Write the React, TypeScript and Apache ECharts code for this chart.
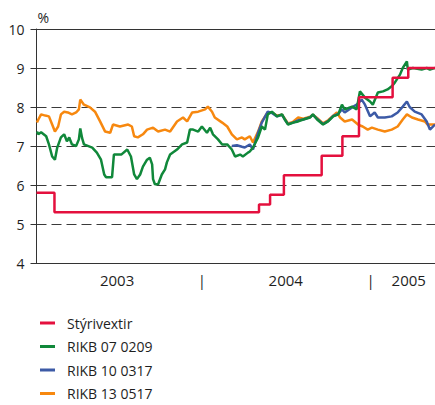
import React, { useEffect, useRef } from "react";
import * as echarts from "echarts";

type Pt = [string, number];

const seriesNames = ["Stýrivextir", "RIKB 07 0209", "RIKB 10 0317", "RIKB 13 0517"];

const yTicks = [4, 5, 6, 7, 8, 9, 10];

const xRange = ["2003-01-07", "2005-05-21"];
const xLabelDates = ["2003-07-01", "2004-01-01", "2004-07-01", "2005-01-01", "2005-03-25"];
const xLabelTexts = ["2003", "|", "2004", "|", "2005"];

const styrivextir: Pt[] = [
  ["2003-01-07", 5.8], ["2003-02-15", 5.3], ["2004-05-04", 5.5], ["2004-05-28", 5.75],
  ["2004-06-27", 6.25], ["2004-09-17", 6.75], ["2004-11-01", 7.25], ["2004-12-07", 8.25],
  ["2005-02-18", 8.75], ["2005-03-24", 9.0], ["2005-05-21", 9.0],
];

const rikb07: Pt[] = [
  ["2003-01-08", 7.37], ["2003-01-11", 7.3], ["2003-01-17", 7.35], ["2003-01-28", 7.25],
  ["2003-02-03", 7.04], ["2003-02-10", 6.73], ["2003-02-16", 6.65], ["2003-02-21", 6.96],
  ["2003-03-01", 7.22], ["2003-03-08", 7.3], ["2003-03-14", 7.12], ["2003-03-19", 7.22],
  ["2003-03-25", 7.04], ["2003-04-03", 7.0], ["2003-04-09", 7.17], ["2003-04-12", 7.45],
  ["2003-04-16", 7.2], ["2003-04-20", 7.04], ["2003-05-08", 6.96], ["2003-05-18", 6.83],
  ["2003-05-27", 6.65], ["2003-06-03", 6.27], ["2003-06-07", 6.2], ["2003-06-20", 6.2],
  ["2003-06-24", 6.78], ["2003-07-10", 6.78], ["2003-07-23", 6.91], ["2003-07-31", 6.73],
  ["2003-08-07", 6.27], ["2003-08-13", 6.15], ["2003-08-20", 6.27], ["2003-08-26", 6.47],
  ["2003-09-04", 6.65], ["2003-09-10", 6.7], ["2003-09-15", 6.53], ["2003-09-17", 6.15],
  ["2003-09-21", 6.02], ["2003-09-28", 6.02], ["2003-10-06", 6.27], ["2003-10-13", 6.4],
  ["2003-10-17", 6.58], ["2003-10-24", 6.78], ["2003-11-08", 6.91], ["2003-11-19", 7.04],
  ["2003-11-30", 7.09], ["2003-12-06", 7.42], ["2003-12-13", 7.42], ["2003-12-24", 7.37],
  ["2004-01-01", 7.5], ["2004-01-12", 7.34], ["2004-01-19", 7.47], ["2004-01-25", 7.3],
  ["2004-02-05", 7.17], ["2004-02-14", 7.04], ["2004-02-25", 7.04], ["2004-03-06", 6.91],
  ["2004-03-13", 6.73], ["2004-03-24", 6.78], ["2004-03-30", 6.73], ["2004-04-10", 6.83],
  ["2004-04-14", 6.86], ["2004-04-21", 6.96], ["2004-05-02", 7.22], ["2004-05-10", 7.5],
  ["2004-05-17", 7.42], ["2004-05-23", 7.81], ["2004-06-01", 7.88], ["2004-06-12", 7.76],
  ["2004-06-23", 7.81], ["2004-06-29", 7.68], ["2004-07-06", 7.55], ["2004-07-17", 7.6],
  ["2004-07-28", 7.63], ["2004-08-08", 7.68], ["2004-08-23", 7.73], ["2004-08-29", 7.81],
  ["2004-09-07", 7.68], ["2004-09-20", 7.55], ["2004-10-01", 7.63], ["2004-10-12", 7.76],
  ["2004-10-23", 7.81], ["2004-10-31", 8.06], ["2004-11-06", 7.94], ["2004-11-22", 8.01],
  ["2004-12-02", 7.94], ["2004-12-09", 8.4], ["2004-12-20", 8.24], ["2004-12-31", 8.14],
  ["2005-01-06", 8.06], ["2005-01-17", 8.37], ["2005-01-28", 8.4], ["2005-02-07", 8.45],
  ["2005-02-16", 8.53], ["2005-02-23", 8.63], ["2005-03-06", 8.83], ["2005-03-12", 9.0],
  ["2005-03-21", 9.17], ["2005-03-23", 8.96], ["2005-04-03", 9.0], ["2005-04-22", 8.96],
  ["2005-05-03", 9.0], ["2005-05-10", 8.96], ["2005-05-21", 9.0],
];

const rikb10: Pt[] = [
  ["2004-03-06", 7.0], ["2004-03-17", 7.02], ["2004-03-28", 6.98], ["2004-04-03", 6.96],
  ["2004-04-14", 7.04], ["2004-04-21", 6.91], ["2004-05-02", 7.34], ["2004-05-10", 7.6],
  ["2004-05-23", 7.88], ["2004-06-01", 7.85], ["2004-06-12", 7.76], ["2004-06-23", 7.8],
  ["2004-06-29", 7.68], ["2004-07-06", 7.56], ["2004-07-17", 7.6], ["2004-07-28", 7.66],
  ["2004-08-08", 7.68], ["2004-08-23", 7.74], ["2004-08-29", 7.8], ["2004-09-07", 7.7],
  ["2004-09-20", 7.56], ["2004-10-01", 7.64], ["2004-10-12", 7.77], ["2004-10-23", 7.82],
  ["2004-10-31", 7.94], ["2004-11-06", 7.86], ["2004-11-22", 7.99], ["2004-12-02", 8.06],
  ["2004-12-13", 8.19], ["2004-12-20", 8.06], ["2004-12-31", 7.76], ["2005-01-10", 7.86],
  ["2005-01-17", 7.73], ["2005-02-01", 7.73], ["2005-02-16", 7.76], ["2005-03-01", 7.86],
  ["2005-03-12", 8.01], ["2005-03-21", 8.14], ["2005-03-27", 8.0], ["2005-04-07", 7.88],
  ["2005-04-22", 7.81], ["2005-05-03", 7.63], ["2005-05-10", 7.42], ["2005-05-21", 7.55],
];

const rikb13: Pt[] = [
  ["2003-01-08", 7.6], ["2003-01-11", 7.68], ["2003-01-17", 7.81], ["2003-01-26", 7.78],
  ["2003-02-03", 7.76], ["2003-02-10", 7.55], ["2003-02-16", 7.37], ["2003-02-23", 7.5],
  ["2003-03-01", 7.81], ["2003-03-08", 7.88], ["2003-03-16", 7.86], ["2003-03-25", 7.81],
  ["2003-04-03", 7.86], ["2003-04-09", 7.94], ["2003-04-12", 8.19], ["2003-04-20", 8.06],
  ["2003-05-03", 7.99], ["2003-05-14", 7.88], ["2003-05-25", 7.63], ["2003-06-05", 7.37],
  ["2003-06-16", 7.34], ["2003-06-22", 7.55], ["2003-07-07", 7.5], ["2003-07-25", 7.55],
  ["2003-08-02", 7.5], ["2003-08-07", 7.25], ["2003-08-15", 7.22], ["2003-08-26", 7.3],
  ["2003-09-04", 7.42], ["2003-09-17", 7.47], ["2003-09-28", 7.37], ["2003-10-13", 7.42],
  ["2003-10-24", 7.37], ["2003-11-08", 7.63], ["2003-11-21", 7.73], ["2003-11-30", 7.63],
  ["2003-12-11", 7.86], ["2003-12-24", 7.88], ["2004-01-08", 7.94], ["2004-01-14", 8.01],
  ["2004-01-23", 7.88], ["2004-01-29", 7.73], ["2004-02-14", 7.6], ["2004-02-25", 7.5],
  ["2004-03-06", 7.3], ["2004-03-17", 7.17], ["2004-03-28", 7.22], ["2004-04-03", 7.17],
  ["2004-04-14", 7.25], ["2004-04-21", 7.09], ["2004-05-02", 7.37], ["2004-05-10", 7.63],
  ["2004-05-23", 7.86], ["2004-06-01", 7.86], ["2004-06-12", 7.78], ["2004-06-23", 7.8],
  ["2004-06-29", 7.7], ["2004-07-06", 7.58], ["2004-07-17", 7.62], ["2004-07-28", 7.73],
  ["2004-08-08", 7.7], ["2004-08-23", 7.75], ["2004-08-29", 7.8], ["2004-09-07", 7.72],
  ["2004-09-20", 7.58], ["2004-10-01", 7.66], ["2004-10-12", 7.78], ["2004-10-20", 7.86],
  ["2004-10-27", 7.73], ["2004-11-06", 7.63], ["2004-11-22", 7.68], ["2004-12-05", 7.55],
  ["2004-12-15", 7.5], ["2004-12-26", 7.42], ["2005-01-04", 7.47], ["2005-01-17", 7.42],
  ["2005-02-01", 7.37], ["2005-02-16", 7.42], ["2005-03-01", 7.5], ["2005-03-12", 7.68],
  ["2005-03-21", 7.81], ["2005-04-01", 7.73], ["2005-04-14", 7.68], ["2005-04-29", 7.63],
  ["2005-05-05", 7.55], ["2005-05-21", 7.55],
];

const colors = {
  red: "#e4103e",
  green: "#10883a",
  blue: "#3c5aa6",
  orange: "#f7880f",
};

const FONT = "'Open Sans', 'Noto Sans', sans-serif";
const TEXT = "#1e1e1e";

const ts = (d: string) => Date.UTC(+d.slice(0, 4), +d.slice(5, 7) - 1, +d.slice(8, 10));
const toXY = (arr: Pt[]) => arr.map(([d, v]) => [ts(d), v]);

export default function App() {
  const ref = useRef<HTMLDivElement>(null);
  useEffect(() => {
    if (!ref.current) return;
    const chart = echarts.init(ref.current, undefined, { renderer: "svg" });
    const labelTs = xLabelDates.map(ts);
    const option: any = {
      animation: false,
      textStyle: { fontFamily: FONT },
      grid: { left: 36.5, right: 0, top: 29, bottom: 142 },
      legend: {
        orient: "vertical",
        left: 40,
        top: 316,
        height: 150,
        padding: 0,
        itemWidth: 15,
        itemHeight: 3,
        itemGap: 9.5,
        icon: "rect",
        data: seriesNames,
        textStyle: {
          fontFamily: FONT,
          fontSize: 14,
          color: TEXT,
          lineHeight: 14,
          padding: [0, 0, 0, 7],
        },
      },
      xAxis: [
        {
          type: "value",
          min: ts(xRange[0]),
          max: ts(xRange[1]),
          axisLine: { show: true, onZero: false, lineStyle: { color: "#333", width: 1 } },
          axisTick: { show: false },
          splitLine: { show: false },
          axisLabel: {
            customValues: labelTs,
            margin: 9,
            fontSize: 15,
            color: TEXT,
            fontFamily: FONT,
            formatter: (v: number) => {
              const i = labelTs.findIndex((t) => Math.abs(t - v) < 86400000 * 2);
              return i >= 0 ? xLabelTexts[i] : "";
            },
          },
        },
        {
          type: "value",
          position: "top",
          min: 0,
          max: 1,
          axisLine: { show: true, onZero: false, lineStyle: { color: "#333", width: 1 } },
          axisTick: { show: false },
          axisLabel: { show: false },
          splitLine: { show: false },
        },
      ],
      yAxis: {
        type: "value",
        min: yTicks[0],
        max: yTicks[yTicks.length - 1],
        interval: 1,
        name: "%",
        nameLocation: "end",
        nameGap: 12,
        nameTextStyle: {
          fontSize: 14,
          color: TEXT,
          fontFamily: FONT,
          align: "left",
          verticalAlign: "middle",
          padding: [0, 0, 0, 1],
        },
        axisLine: { show: true, lineStyle: { color: "#333", width: 1 } },
        axisTick: { show: true, length: 6, inside: false, lineStyle: { color: "#333" } },
        axisLabel: { margin: 12, fontSize: 14, color: TEXT, fontFamily: FONT },
        splitLine: { show: true, lineStyle: { color: "#3a3a3a", width: 1, type: [10, 5] } },
      },
      series: [
        {
          name: seriesNames[3],
          type: "line",
          data: toXY(rikb13),
          showSymbol: false,
          lineStyle: { color: colors.orange, width: 2.5 },
          itemStyle: { color: colors.orange },
          z: 2,
        },
        {
          name: seriesNames[2],
          type: "line",
          data: toXY(rikb10),
          showSymbol: false,
          lineStyle: { color: colors.blue, width: 2.5 },
          itemStyle: { color: colors.blue },
          z: 3,
        },
        {
          name: seriesNames[1],
          type: "line",
          data: toXY(rikb07),
          showSymbol: false,
          lineStyle: { color: colors.green, width: 2.5 },
          itemStyle: { color: colors.green },
          z: 4,
        },
        {
          name: seriesNames[0],
          type: "line",
          step: "end",
          data: toXY(styrivextir),
          showSymbol: false,
          lineStyle: { color: colors.red, width: 2.5 },
          itemStyle: { color: colors.red },
          z: 5,
        },
      ],
    };
    chart.setOption(option);
    return () => chart.dispose();
  }, []);
  return (
    <div
      ref={ref}
      style={{ position: "absolute", left: 0, top: 0, width: 435, height: 405 }}
    />
  );
}
